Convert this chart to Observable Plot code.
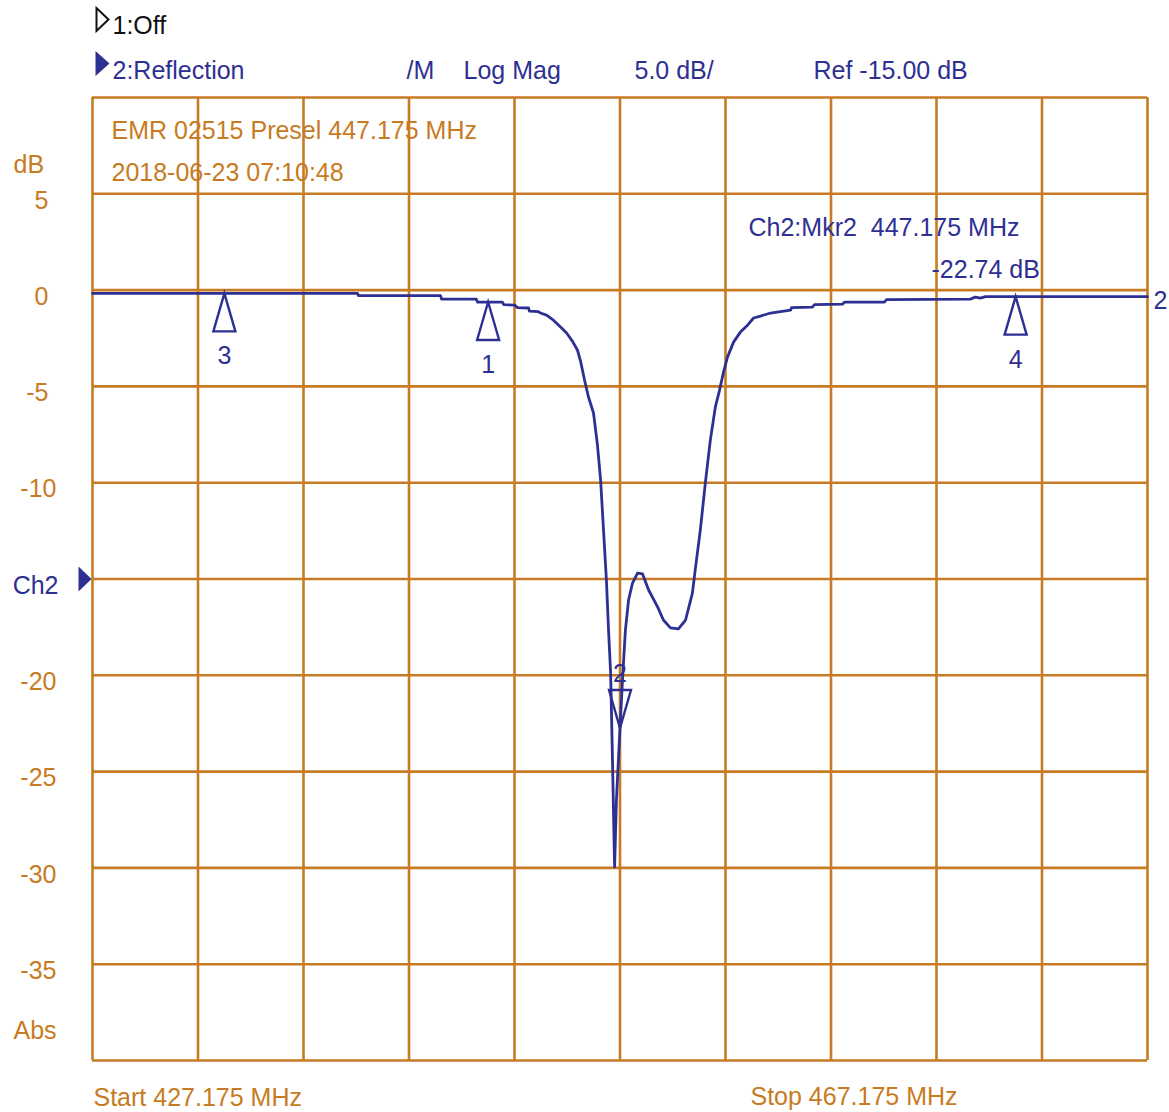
<!DOCTYPE html>
<html><head><meta charset="utf-8">
<script src="https://cdn.jsdelivr.net/npm/d3@7"></script>
<script src="https://cdn.jsdelivr.net/npm/@observablehq/plot@0.6"></script>
<style>html,body{margin:0;padding:0;background:#fff;}</style>
</head><body><div id="chart"></div>
<script>
// ---- data ----
const traceFreqMHz = [427.175, 437.22, 437.26, 440.37, 440.41, 441.73, 441.77, 442.72, 442.76, 443.18,
  443.29, 443.71, 443.74, 444.08, 444.16, 444.39, 444.65, 444.92, 445.15, 445.37,
  445.56, 445.68, 445.83, 445.98, 446.17, 446.32, 446.44, 446.55, 446.66, 446.74,
  446.82, 446.89, 446.97, 447.04, 447.175, 447.27, 447.38, 447.50, 447.65, 447.84,
  448.03, 448.26, 448.60, 448.82, 449.09, 449.39, 449.66, 449.92, 450.04, 450.22,
  450.41, 450.60, 450.79, 450.95, 451.10, 451.25, 451.48, 451.74, 452.01, 452.24,
  452.50, 452.88, 453.64, 453.68, 454.47, 454.55, 455.61, 455.69, 457.20, 457.28,
  460.46, 460.65, 460.84, 461.03, 467.175];
const traceDb = [-0.17, -0.17, -0.29, -0.29, -0.47, -0.47, -0.62, -0.62, -0.75, -0.78,
  -0.91, -0.93, -1.09, -1.12, -1.19, -1.30, -1.56, -1.92, -2.23, -2.65,
  -3.11, -3.69, -4.67, -5.55, -6.38, -8.04, -9.86, -12.46, -15.05, -17.65,
  -19.88, -24.39, -29.95, -26.47, -22.74, -20.24, -17.65, -16.09, -15.21, -14.69,
  -14.74, -15.57, -16.45, -17.13, -17.54, -17.59, -17.13, -15.73, -14.38, -12.46,
  -10.02, -7.79, -6.07, -5.19, -4.26, -3.48, -2.70, -2.18, -1.82, -1.45,
  -1.35, -1.19, -1.04, -0.91, -0.88, -0.75, -0.73, -0.62, -0.62, -0.49,
  -0.47, -0.36, -0.42, -0.34, -0.34];

const markerNames = ["1", "2", "3", "4"];
const markerFreqMHz = [442.175, 447.175, 432.175, 462.175];
const markerDb = [-0.62, -22.74, -0.17, -0.34];

const gridFreqMHz = [427.175, 431.175, 435.175, 439.175, 443.175, 447.175, 451.175, 455.175, 459.175, 463.175, 467.175];
const gridDb = [10, 5, 0, -5, -10, -15, -20, -25, -30, -35, -40];
const yTickValues = [5, 0, -5, -10, -20, -25, -30, -35];
const refLevelDb = -15;

const channelLines = ["1:Off", "2:Reflection"];
const headerItems = ["/M", "Log Mag", "5.0 dB/", "Ref -15.00 dB"];
const titleLines = ["EMR 02515 Presel 447.175 MHz", "2018-06-23 07:10:48"];
const markerReadout = ["Ch2:Mkr2\u00a0 447.175 MHz", "-22.74 dB"];
const unitLabels = ["dB", "Abs", "Ch2"];
const sweepLabels = ["Start 427.175 MHz", "Stop 467.175 MHz"];

// ---- styling ----
const ORANGE = "#c77b22";
const BLUE = "#2d3092";
const FONT = "'Liberation Sans', Arial, sans-serif";
const FS = 25;

const trace = traceFreqMHz.map((f, i) => ({f, db: traceDb[i]}));
const markers = markerNames.map((n, i) => ({n, f: markerFreqMHz[i], db: markerDb[i]}));
const xMin = gridFreqMHz[0], xMax = gridFreqMHz[gridFreqMHz.length - 1];
const yMin = gridDb[gridDb.length - 1], yMax = gridDb[0];

const upMarker = {draw(ctx) { ctx.moveTo(0, 0); ctx.lineTo(11, 38); ctx.lineTo(-11, 38); ctx.closePath(); }};
const downMarker = {draw(ctx) { ctx.moveTo(0, 0); ctx.lineTo(11, -38); ctx.lineTo(-11, -38); ctx.closePath(); }};
const rightTri = (w, h) => ({draw(ctx) { ctx.moveTo(0, 0); ctx.lineTo(-w, -h / 2); ctx.lineTo(-w, h / 2); ctx.closePath(); }});

const txt = (str, opts) => Plot.text([str], {text: d => d, fontSize: FS, fontFamily: FONT, textAnchor: "start", lineAnchor: "bottom", ...opts});

const chart = Plot.plot({
  width: 1169,
  height: 1112,
  marginLeft: 92,
  marginRight: 22,
  marginTop: 97,
  marginBottom: 52,
  x: {domain: [xMin, xMax], axis: null},
  y: {domain: [yMin, yMax], axis: null},
  style: {background: "#fff", fontFamily: FONT, overflow: "visible"},
  marks: [
    Plot.ruleX(gridFreqMHz, {stroke: ORANGE, strokeWidth: 2.6}),
    Plot.ruleY(gridDb, {stroke: ORANGE, strokeWidth: 2.6}),
    // trace
    Plot.line(trace, {x: "f", y: "db", stroke: BLUE, strokeWidth: 2.8}),
    // markers
    Plot.dot(markers.filter(d => d.n !== "2"), {x: "f", y: "db", symbol: upMarker, fill: "none", stroke: BLUE, strokeWidth: 2.4}),
    Plot.dot(markers.filter(d => d.n === "2"), {x: "f", y: "db", symbol: downMarker, fill: "none", stroke: BLUE, strokeWidth: 2.4}),
    Plot.text(markers.filter(d => d.n !== "2"), {x: "f", y: "db", text: "n", dy: 71, lineAnchor: "bottom", fill: BLUE, fontSize: FS, fontFamily: FONT}),
    Plot.text(markers.filter(d => d.n === "2"), {x: "f", y: "db", text: "n", dy: -46, lineAnchor: "bottom", fill: BLUE, fontSize: FS, fontFamily: FONT}),
    // channel 2 end label
    Plot.text([trace[trace.length - 1]], {x: "f", y: "db", text: () => "2", dx: 6, dy: 12, textAnchor: "start", lineAnchor: "bottom", fill: BLUE, fontSize: FS, fontFamily: FONT}),
    // y labels
    Plot.text(yTickValues.filter(v => Math.abs(v) < 10), {x: () => xMin, y: d => d, text: d => String(d), dx: -44, dy: -3, textAnchor: "end", lineAnchor: "top", fill: ORANGE, fontSize: FS, fontFamily: FONT}),
    Plot.text(yTickValues.filter(v => Math.abs(v) >= 10), {x: () => xMin, y: d => d, text: d => String(d), dx: -36, dy: -3, textAnchor: "end", lineAnchor: "top", fill: ORANGE, fontSize: FS, fontFamily: FONT}),
    Plot.text([refLevelDb], {x: () => xMin, y: d => d, text: () => unitLabels[2], dx: -34, dy: -3, textAnchor: "end", lineAnchor: "top", fill: BLUE, fontSize: FS, fontFamily: FONT}),
    Plot.dot([refLevelDb], {x: () => xMin, y: d => d, dx: -1, symbol: rightTri(13, 25), fill: BLUE, stroke: "none"}),
    txt(unitLabels[0], {frameAnchor: "top-left", dx: -79, dy: 75, fill: ORANGE}),
    txt(unitLabels[1], {frameAnchor: "bottom-left", dx: -79, dy: -22, fill: ORANGE}),
    // header
    Plot.dot([0], {x: () => xMin, y: () => yMax, dx: 16, dy: -78, symbol: rightTri(12, 23), fill: "none", stroke: "#111", strokeWidth: 2}),
    Plot.dot([0], {x: () => xMin, y: () => yMax, dx: 17, dy: -34, symbol: rightTri(14, 25), fill: BLUE, stroke: "none"}),
    txt(channelLines[0], {frameAnchor: "top-left", dx: 20, dy: -64, fill: "#111"}),
    txt(channelLines[1], {frameAnchor: "top-left", dx: 20, dy: -19, fill: BLUE}),
    txt(headerItems[0], {frameAnchor: "top-left", dx: 314, dy: -19, fill: BLUE}),
    txt(headerItems[1], {frameAnchor: "top-left", dx: 371, dy: -19, fill: BLUE}),
    txt(headerItems[2], {frameAnchor: "top-left", dx: 542, dy: -19, fill: BLUE}),
    txt(headerItems[3], {frameAnchor: "top-left", dx: 721, dy: -19, fill: BLUE}),
    txt(titleLines[0], {frameAnchor: "top-left", dx: 19, dy: 41, fill: ORANGE}),
    txt(titleLines[1], {frameAnchor: "top-left", dx: 19, dy: 83, fill: ORANGE}),
    txt(markerReadout[0], {frameAnchor: "top-left", dx: 656, dy: 138, fill: BLUE}),
    txt(markerReadout[1], {frameAnchor: "top-left", dx: 839, dy: 180, fill: BLUE}),
    txt(sweepLabels[0], {frameAnchor: "bottom-left", dx: 1, dy: 45, fill: ORANGE}),
    txt(sweepLabels[1], {frameAnchor: "bottom-left", dx: 658, dy: 44, fill: ORANGE})
  ]
});
document.getElementById("chart").appendChild(chart);
</script>
</body></html>
